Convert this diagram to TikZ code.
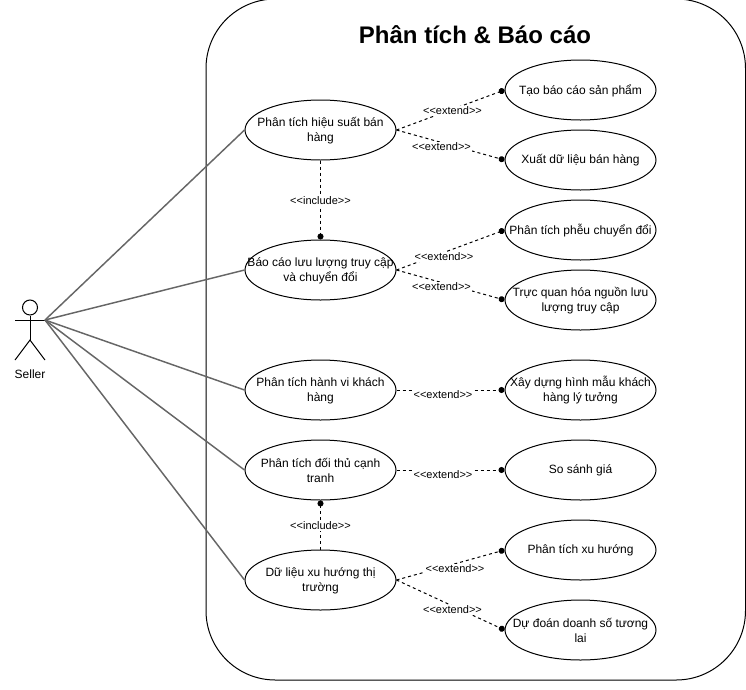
\documentclass[tikz,border=0pt]{standalone}
\usepackage{fontspec}
\setmainfont{Liberation Sans}
\usetikzlibrary{arrows.meta,shapes.geometric}
\tikzset{
  usecase/.style={draw=black,fill=white,ellipse,minimum width=113.25pt,minimum height=45pt,inner sep=0pt,line width=0.75pt},
  uctext/.style={align=center,inner sep=0pt,yshift=-0.4pt,font=\fontsize{9}{11.25}\selectfont},
  assoc/.style={draw=black!60,line width=1.1pt},
  rel/.style={draw=black,line width=0.75pt,dash pattern=on 2.25pt off 2.25pt,-{Circle[length=4.5pt,width=4.5pt]}},
  rellabel/.style={fill=white,inner sep=0.5pt,yshift=-0.6pt,font=\fontsize{8.25}{10}\selectfont},
  stick/.style={draw=black,line width=0.75pt}
}
\begin{document}
\begin{tikzpicture}[x=0.75pt,y=-0.75pt]
\useasboundingbox (0,0) rectangle (746,689);
\draw[line width=0.75pt,rounded corners=52pt] (206,-1) rectangle (745.5,680);
\node[font=\bfseries\fontsize{18}{22}\selectfont] (title) at (475,34.5) {Phân tích \& Báo cáo};
% actor
\coordinate (hand) at (45,320);
\coordinate (armL) at (15,320);
\coordinate (hip) at (30,340);
\coordinate (legL) at (15,360);
\coordinate (legR) at (45,360);
\node[circle,stick,minimum size=11.25pt,inner sep=0pt] (head) at (30,307.5) {};
\draw[stick] (head.south) -- (hip);
\draw[stick] (armL) -- (hand);
\draw[stick] (legL) -- (hip) -- (legR);
\node[font=\fontsize{9}{11}\selectfont] (seller) at (30,374.5) {Seller};
% use cases
\node[usecase,label={[uctext]center:Phân tích hiệu suất bán\\hàng}] (a1) at (320.5,130) {};
\node[usecase,label={[uctext]center:Báo cáo lưu lượng truy cập\\và chuyển đổi}] (a2) at (320.5,270) {};
\node[usecase,label={[uctext]center:Phân tích hành vi khách\\hàng}] (a3) at (320.5,390) {};
\node[usecase,label={[uctext]center:Phân tích đối thủ cạnh\\tranh}] (a4) at (320.5,470) {};
\node[usecase,label={[uctext]center:Dữ liệu xu hướng thị\\trường}] (a5) at (320.5,580) {};
\node[usecase,label={[uctext]center:Tạo báo cáo sản phẩm}] (b1) at (580.5,90) {};
\node[usecase,label={[uctext]center:Xuất dữ liệu bán hàng}] (b2) at (580.5,160) {};
\node[usecase,label={[uctext]center:Phân tích phễu chuyển đổi}] (b3) at (580.5,230) {};
\node[usecase,label={[uctext]center:Trực quan hóa nguồn lưu\\lượng truy cập}] (b4) at (580.5,300) {};
\node[usecase,label={[uctext]center:Xây dựng hình mẫu khách\\hàng lý tưởng}] (b5) at (580.5,390) {};
\node[usecase,label={[uctext]center:So sánh giá}] (b6) at (580.5,470) {};
\node[usecase,label={[uctext]center:Phân tích xu hướng}] (b7) at (580.5,550) {};
\node[usecase,label={[uctext]center:Dự đoán doanh số tương\\lai}] (b8) at (580.5,630) {};
% associations
\foreach \t in {a1,a2,a3,a4,a5} \draw[assoc] (hand) -- (\t.west);
% relations
\draw[rel] (a1.east) -- (b1.west);
\draw[rel] (a1.east) -- (b2.west);
\draw[rel] (a2.east) -- (b3.west);
\draw[rel] (a2.east) -- (b4.west);
\draw[rel] (a3.east) -- (b5.west);
\draw[rel] (a4.east) -- (b6.west);
\draw[rel] (a5.east) -- (b7.west);
\draw[rel] (a5.east) -- (b8.west);
\draw[rel] (a1.south) -- (a2.north);
\draw[rel] (a5.north) -- (a4.south);
% labels
\node[rellabel] (l1) at (452.5,110) {<{}<extend>{}>};
\node[rellabel] (l2) at (441.5,146) {<{}<extend>{}>};
\node[rellabel] (l3) at (444,256) {<{}<extend>{}>};
\node[rellabel] (l4) at (441.5,286) {<{}<extend>{}>};
\node[rellabel] (l5) at (443,394) {<{}<extend>{}>};
\node[rellabel] (l6) at (443,474) {<{}<extend>{}>};
\node[rellabel] (l7) at (455,568) {<{}<extend>{}>};
\node[rellabel] (l8) at (452.5,609) {<{}<extend>{}>};
\node[rellabel] (l9) at (320.5,200) {<{}<include>{}>};
\node[rellabel] (l10) at (320.5,525) {<{}<include>{}>};
\end{tikzpicture}
\end{document}
